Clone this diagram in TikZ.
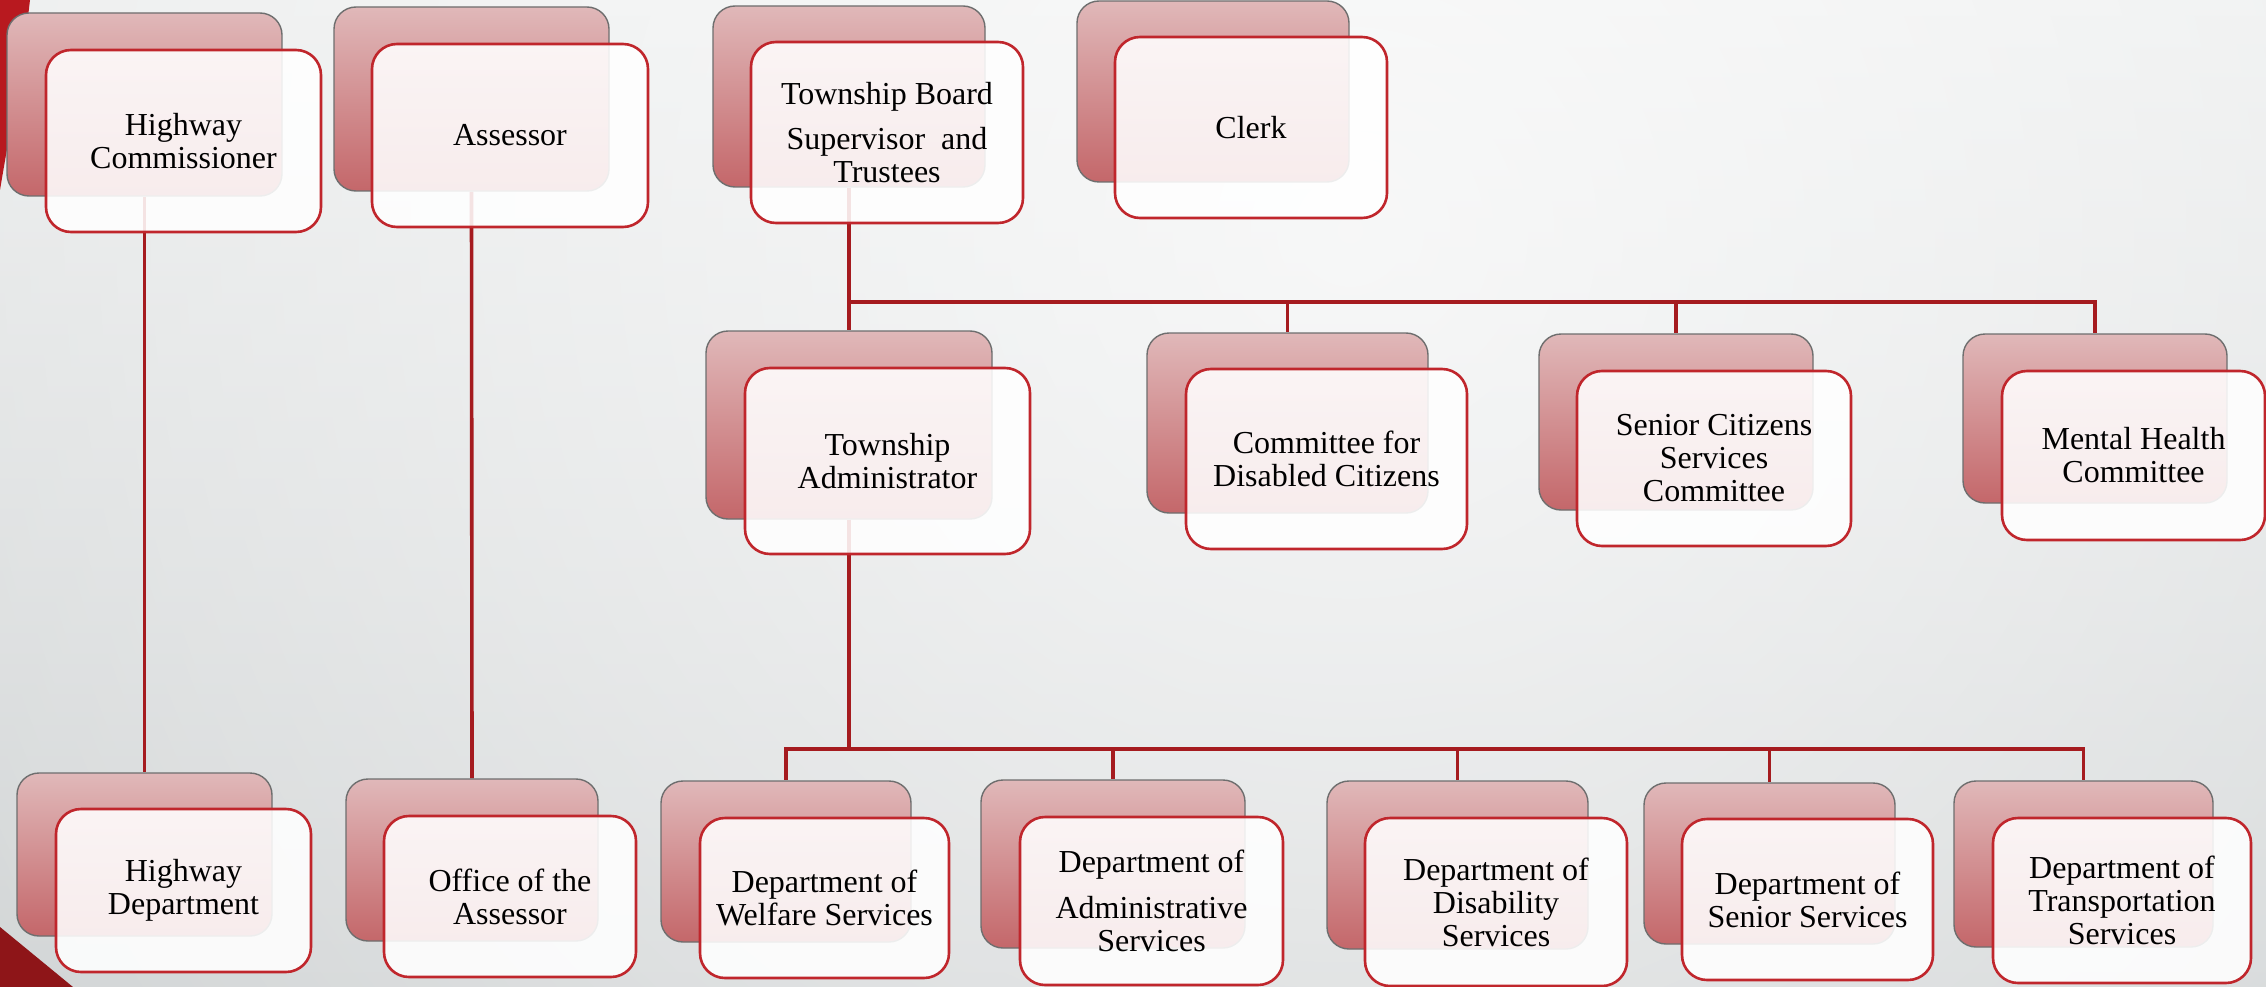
\documentclass[tikz,border=0pt]{standalone}
\usepackage{fontspec}
\setmainfont{Liberation Serif}
\usetikzlibrary{fit,fadings}
\tikzfading[name=glowfade, inner color=transparent!0, outer color=transparent!100]
\definecolor{bgtop}{HTML}{E8EAEA}
\definecolor{bgbot}{HTML}{C6CACB}
\definecolor{backtop}{HTML}{E0B8B9}
\definecolor{backmid}{HTML}{D8A3A4}
\definecolor{backbot}{HTML}{C4676A}
\definecolor{backedge}{HTML}{6E6E6E}
\definecolor{frontedge}{HTML}{C0262C}
\definecolor{connred}{HTML}{A51B1F}
\definecolor{cornerred}{HTML}{B8191F}
\definecolor{cornerdark}{HTML}{8E1518}
\pgfdeclarelayer{bglayer}
\pgfdeclarelayer{linelayer}
\pgfsetlayers{bglayer,linelayer,main}
\tikzset{
  backbox/.style={rectangle, rounded corners=22pt, inner sep=0pt, draw=backedge, line width=1.4pt,
    top color=backtop, middle color=backmid, bottom color=backbot},
  frontbox/.style={rectangle, rounded corners=25pt, inner sep=0pt, draw=frontedge, line width=2.6pt,
    fill=white, fill opacity=0.88, draw opacity=1},
  boxtext/.style={inner sep=0pt, align=center, font=\fontsize{32}{33}\selectfont, text=black},
  conn/.style={draw=connred, line width=3.6pt}
}
\newcommand\boxlabel[2]{\node[boxtext] (#1T) at (#1.center) {#2};}
\begin{document}
\begin{tikzpicture}[x=1pt,y=-1pt]
\useasboundingbox (0,0) rectangle (2266,987);
\begin{pgfonlayer}{bglayer}
  \begin{scope}
    \clip (0,0) rectangle (2266,987);
    \shade[top color=bgtop, bottom color=bgbot] (0,0) rectangle (2266,987);
    \fill[white, path fading=glowfade, fill opacity=0.75] (1350,230) circle (2200pt);
    \fill[cornerred] (0,0) -- (30,0) .. controls (22,70) and (10,130) .. (0,190) -- cycle;
    \fill[cornerdark] (0,927) -- (73,987) -- (0,987) -- cycle;
  \end{scope}
\end{pgfonlayer}

% top row
\node[backbox, fit={(7,13) (282,196)}] (hcB) {};
\node[frontbox, fit={(46,50) (321,232)}] (hc) {};
\boxlabel{hc}{Highway\\Commissioner}
\node[backbox, fit={(334,7) (609,191)}] (asB) {};
\node[frontbox, fit={(372,44) (648,227)}] (as) {};
\boxlabel{as}{Assessor}
\node[backbox, fit={(713,6) (985,187)}] (tbB) {};
\node[frontbox, fit={(751,42) (1023,223)}] (tb) {};
\boxlabel{tb}{Township Board\\[12pt]Supervisor\ \ and\\Trustees}
\node[backbox, fit={(1077,1) (1349,182)}] (clB) {};
\node[frontbox, fit={(1115,37) (1387,218)}] (cl) {};
\boxlabel{cl}{Clerk}

% middle row
\node[backbox, fit={(706,331) (992,519)}] (taB) {};
\node[frontbox, fit={(745,368) (1030,554)}] (ta) {};
\boxlabel{ta}{Township\\Administrator}
\node[backbox, fit={(1147,333) (1428,513)}] (cdB) {};
\node[frontbox, fit={(1186,369) (1467,549)}] (cd) {};
\boxlabel{cd}{Committee for\\Disabled Citizens}
\node[backbox, fit={(1539,334) (1813,510)}] (scB) {};
\node[frontbox, fit={(1577,371) (1851,546)}] (sc) {};
\boxlabel{sc}{Senior Citizens\\Services\\Committee}
\node[backbox, fit={(1963,334) (2227,503)}] (mhB) {};
\node[frontbox, fit={(2002,371) (2265,540)}] (mh) {};
\boxlabel{mh}{Mental Health\\Committee}

% bottom row
\node[backbox, fit={(17,773) (272,936)}] (hdB) {};
\node[frontbox, fit={(56,809) (311,972)}] (hd) {};
\boxlabel{hd}{Highway\\Department}
\node[backbox, fit={(346,779) (598,941)}] (oaB) {};
\node[frontbox, fit={(384,816) (636,977)}] (oa) {};
\boxlabel{oa}{Office of the\\Assessor}
\node[backbox, fit={(661,781) (911,942)}] (wsB) {};
\node[frontbox, fit={(700,818) (949,978)}] (ws) {};
\boxlabel{ws}{Department of\\Welfare Services}
\node[backbox, fit={(981,780) (1245,948)}] (adB) {};
\node[frontbox, fit={(1020,817) (1283,985)}] (ad) {};
\boxlabel{ad}{Department of\\[13pt]Administrative\\Services}
\node[backbox, fit={(1327,781) (1588,949)}] (dsB) {};
\node[frontbox, fit={(1365,818) (1627,986)}] (ds) {};
\boxlabel{ds}{Department of\\Disability\\Services}
\node[backbox, fit={(1644,783) (1895,944)}] (ssB) {};
\node[frontbox, fit={(1682,819) (1933,980)}] (ss) {};
\boxlabel{ss}{Department of\\Senior Services}
\node[backbox, fit={(1954,781) (2213,947)}] (trB) {};
\node[frontbox, fit={(1993,818) (2251,983)}] (tr) {};
\boxlabel{tr}{Department of\\Transportation\\Services}

\coordinate (bus1) at (849,302);
\coordinate (bus2) at (849,749);

\begin{pgfonlayer}{linelayer}
  \draw[conn] (hcB.south) -- (hdB.north);
  \draw[conn] (asB.south) -- (oaB.north);
  \draw[conn] (tbB.south) -- (taB.north);
  \draw[conn] (tbB.south) -- (bus1) -| (cdB.north);
  \draw[conn] (tbB.south) -- (bus1) -| (scB.north);
  \draw[conn] (tbB.south) -- (bus1) -| (mhB.north);
  \draw[conn] (taB.south) -- (bus2) -| (wsB.north);
  \draw[conn] (taB.south) -- (bus2) -| (adB.north);
  \draw[conn] (taB.south) -- (bus2) -| (dsB.north);
  \draw[conn] (taB.south) -- (bus2) -| (ssB.north);
  \draw[conn] (taB.south) -- (bus2) -| (trB.north);
\end{pgfonlayer}
\end{tikzpicture}
\end{document}
